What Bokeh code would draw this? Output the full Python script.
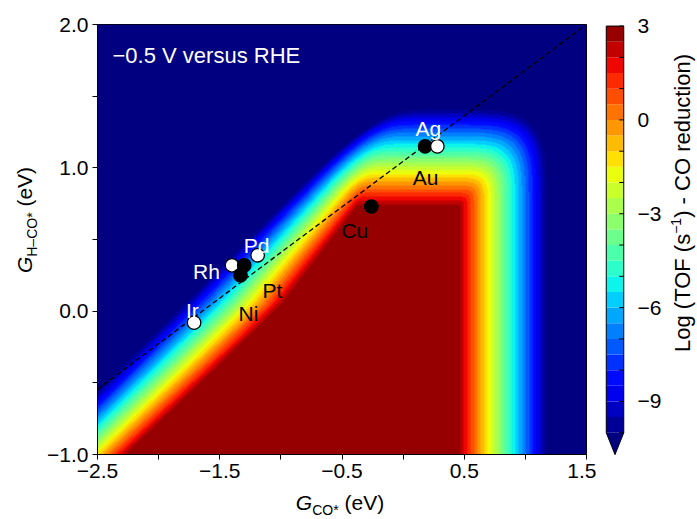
import numpy as np
from bokeh.plotting import figure
from bokeh.models import (Range1d, LinearColorMapper, FixedTicker, CustomJSTickFormatter,
                          Label, ColumnDataSource, Div)
from bokeh.layouts import row, column
from bokeh.core.properties import value
from bokeh.embed import file_html
from bokeh.resources import INLINE

# ---------------- data ----------------
metals = ["Ir", "Rh", "Ni", "Pt", "Pd", "Cu", "Au", "Ag"]
g_co = [-1.71, -1.40, -1.33, -1.30, -1.19, -0.26, 0.18, 0.28]
g_hco = [-0.08, 0.32, 0.25, 0.32, 0.39, 0.73, 1.15, 1.15]

scaling_g_co = [-2.5, 1.5]
scaling_g_hco = [-0.545, 2.0]

x_ticks = [-2.5, -1.5, -0.5, 0.5, 1.5]
x_minor = [-2.0, -1.0, 0.0, 1.0]
y_ticks = [-1.0, 0.0, 1.0, 2.0]
y_minor = [-0.5, 0.5, 1.5]
cbar_ticks = [3, 0, -3, -6, -9]
cbar_minor = [3, 2, 1, 0, -1, -2, -3, -4, -5, -6, -7, -8, -9, -10]
cbar_levels = [-10.0, -9.5, -9.0, -8.5, -8.0, -7.5, -7.0, -6.5, -6.0, -5.5, -5.0, -4.5, -4.0,
               -3.5, -3.0, -2.5, -2.0, -1.5, -1.0, -0.5, 0.0, 0.5, 1.0, 1.5, 2.0, 2.5, 3.0]

# activity map: plateau (log TOF = 3) and the contour edges around it
logtof_max = 3.0
logtof_min = -10.0
top_edge_g_hco = 0.72          # log TOF = 3 along the top of the plateau
top_gradient = 19.0            # decades per eV above it
right_edge_g_co = 0.44         # log TOF = 3 along the right of the plateau
right_gradient = 17.8          # decades per eV right of it
# diagonal flank: G_CO* where log TOF = 3, at given G_H-CO*
flank_hi_g_hco = [-1.00, -0.35, 0.05, 0.42, 0.72, 2.00]
flank_hi_g_co = [-2.25, -1.45, -0.97, -0.64, -0.37, 0.78]
# diagonal flank: G_CO* where log TOF falls to -10, at given G_H-CO*
flank_lo_g_hco = [-1.00, 2.00]
flank_lo_g_co = [-3.01, 0.48]
corner_sharpness = 4.0

# ---------------- styles ----------------
FONT = "Liberation Sans"
FILL = {"Ir": "white", "Rh": "white", "Pd": "white", "Ag": "white",
        "Pt": "black", "Ni": "black", "Cu": "black", "Au": "black"}
LABEL_OFFSET = {"Ir": (-1.7, -11.7), "Rh": (-25.5, 6.0), "Pd": (-1.0, -10.0),
                "Pt": (28.3, 25.0), "Ni": (8.0, 38.0), "Cu": (-16.5, 23.5),
                "Au": (0.5, 31.5), "Ag": (-9.0, -18.0)}


def jet(t):
    r = np.interp(t, [0, 0.35, 0.66, 0.89, 1], [0, 0, 1, 1, 0.5])
    g = np.interp(t, [0, 0.125, 0.375, 0.64, 0.91, 1], [0, 0, 1, 1, 0, 0])
    b = np.interp(t, [0, 0.11, 0.34, 0.65, 1], [0.5, 1, 1, 0, 0])
    return "#%02x%02x%02x" % (int(round(r * 255)), int(round(g * 255)), int(round(b * 255)))


lo, hi = cbar_levels[0], cbar_levels[-1]
nb = len(cbar_levels) - 1
palette = [jet((0.5 * (cbar_levels[i] + cbar_levels[i + 1]) - lo) / (hi - lo)) for i in range(nb)]
under = jet(0.0)
mapper = LinearColorMapper(palette=palette, low=lo, high=hi, low_color=under, high_color=palette[-1])

# ---------------- activity field ----------------
X0, X1, Y0, Y1 = -2.5, 1.5, -1.0, 2.0
nx, ny = 489, 430
gx = X0 + (np.arange(nx) + 0.5) * (X1 - X0) / nx
gy = Y0 + (np.arange(ny) + 0.5) * (Y1 - Y0) / ny
GX, GY = np.meshgrid(gx, gy)
x_hi = np.interp(GY, flank_hi_g_hco, flank_hi_g_co)
x_lo = np.interp(GY, flank_lo_g_hco, flank_lo_g_co)
span = logtof_max - logtof_min
a = np.clip(span * (x_hi - GX) / (x_hi - x_lo), 0, None)
bt = top_gradient * np.clip(GY - top_edge_g_hco, 0, None)
cr = right_gradient * np.clip(GX - right_edge_g_co, 0, None)
k = corner_sharpness
Z = logtof_max - (a ** k + bt ** k + cr ** k) ** (1.0 / k)
Z = Z.astype(np.float32)

# ---------------- main figure ----------------
p = figure(frame_width=489, frame_height=430, x_range=Range1d(X0, X1), y_range=Range1d(Y0, Y1),
           output_backend="svg", toolbar_location=None,
           min_border_left=55, min_border_right=10, min_border_top=24, min_border_bottom=36)
p.image(image=[Z], x=X0, y=Y0, dw=X1 - X0, dh=Y1 - Y0, color_mapper=mapper)
p.line(scaling_g_co, scaling_g_hco, line_color="black", line_dash="5 3", line_width=1.3)

src = ColumnDataSource(dict(
    x=g_co, y=g_hco, name=metals,
    fill=[FILL[n] for n in metals],
    tc=["white" if FILL[n] == "white" else "black" for n in metals],
    dx=[LABEL_OFFSET[n][0] for n in metals],
    dy=[LABEL_OFFSET[n][1] for n in metals],
))
p.scatter("x", "y", source=src, size=13.5, fill_color="fill", line_color="black", line_width=1.3)
p.text("x", "y", text="name", source=src, x_offset="dx", y_offset="dy", text_color="tc",
       text_align="center", text_baseline="alphabetic", text_font=value(FONT), text_font_size="21px")

p.xgrid.visible = False
p.ygrid.visible = False
p.outline_line_color = "black"
p.outline_line_width = 1
p.xaxis.ticker = FixedTicker(ticks=x_ticks, minor_ticks=x_minor)
p.yaxis.ticker = FixedTicker(ticks=y_ticks, minor_ticks=y_minor)
fmt1 = "return tick.toFixed(1).replace('-', '\u2212');"
for ax in (p.xaxis[0], p.yaxis[0]):
    ax.formatter = CustomJSTickFormatter(code=fmt1)
    ax.axis_line_color = "black"
    ax.major_tick_line_color = "black"
    ax.minor_tick_line_color = "black"
    ax.major_tick_out = 5
    ax.major_tick_in = 0
    ax.minor_tick_out = 5
    ax.minor_tick_in = 0
    ax.major_label_text_font = FONT
    ax.major_label_text_font_size = "21px"
    ax.major_label_text_color = "black"
    ax.major_label_standoff = 4

p.add_layout(Label(x=X0, y=Y1, x_offset=15, y_offset=-31, text="\u22120.5 V versus RHE",
                   text_font=FONT, text_font_size="22px", text_color="white",
                   text_baseline="alphabetic"))

# ---------------- colour bar ----------------
cb = figure(frame_width=21, frame_height=432, x_range=Range1d(-0.1, 1.1),
            y_range=Range1d(-10.76, 3.05), output_backend="svg", toolbar_location=None,
            x_axis_location=None, y_axis_location="right",
            min_border_left=8, min_border_right=40, min_border_top=23, min_border_bottom=35)
cb.xgrid.visible = False
cb.ygrid.visible = False
cb.outline_line_color = None
cb.quad(left=0, right=1, bottom=cbar_levels[:-1], top=cbar_levels[1:], fill_color=palette,
        line_color=None)
cb.patch([0, 1, 0.5], [lo, lo, lo - 0.7], fill_color=under, line_color=None)
cb.line([0, 0, 0.5, 1, 1, 0], [hi, lo, lo - 0.7, lo, hi, hi], line_color="black", line_width=1)
cb.segment(x0=[0.74] * len(cbar_minor), x1=[1.0] * len(cbar_minor), y0=cbar_minor, y1=cbar_minor,
           line_color="black", line_width=1)
cax = cb.yaxis[0]
cax.ticker = FixedTicker(ticks=cbar_ticks, minor_ticks=[])
cax.formatter = CustomJSTickFormatter(code="return tick.toFixed(0).replace('-', '\u2212');")
cax.axis_line_color = None
cax.major_tick_line_color = None
cax.minor_tick_line_color = None
cax.major_label_text_font = FONT
cax.major_label_text_font_size = "21px"
cax.major_label_text_color = "black"
cax.major_label_standoff = 6

# ---------------- axis titles (HTML text) ----------------
BASE = "font-family:'Liberation Sans',Arial,sans-serif;color:black;white-space:nowrap;"


def title_div(inner, w, h, cx, cy, size, rotate):
    rot = " rotate(-90deg)" if rotate else ""
    html = ('<div style="position:relative;width:%dpx;height:%dpx;overflow:visible;">'
            '<div style="position:absolute;left:%dpx;top:%dpx;transform:translate(-50%%,-50%%)%s;'
            '%sfont-size:%dpx;line-height:1.1;">%s</div></div>') % (w, h, cx, cy, rot, BASE, size, inner)
    return Div(text=html, width=w, height=h, margin=0)


ylab = title_div('<i>G</i><sub style="font-size:14px">H\u2013CO*</sub> (eV)', 42, 490, 27, 220, 21, True)
clab = title_div('Log (TOF (s<sup style="font-size:14px">\u22121</sup>) - CO reduction)', 28, 490,
                 17, 203, 22, True)
xlab = title_div('<i>G</i><sub style="font-size:14px">CO*</sub> (eV)', 693, 27, 340, 15, 21, False)

layout = column(row(ylab, p, cb, clab), xlab)
open("out.html", "w").write(file_html(layout, INLINE))
